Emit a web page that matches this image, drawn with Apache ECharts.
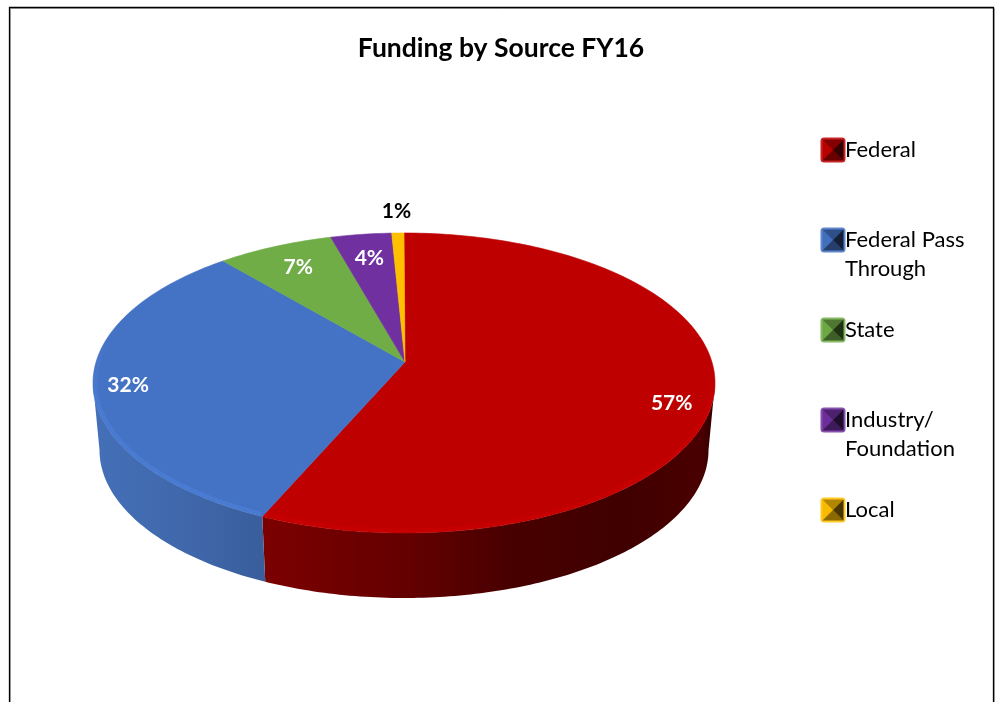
<!DOCTYPE html>
<html><head><meta charset="utf-8">
<style>html,body{margin:0;padding:0;background:#fff}#c{width:1000px;height:702px}</style>
<script src="https://cdn.jsdelivr.net/npm/echarts@6/dist/echarts.min.js"></script>
</head><body><div id="c"></div>
<script>
// ---- data ----
const categories = ['Federal', 'Federal Pass Through', 'State', 'Industry/ Foundation', 'Local'];
const legendText = ['Federal\n ', 'Federal Pass\nThrough', 'State\n ', 'Industry/\nFoundation', 'Local\n '];
const shares = [56.8, 32.3, 6.7, 3.5, 0.7];
const chartTitle = 'Funding by Source FY16';

// ---- styling ----
const topColors = ['#BE0000', '#4472C4', '#70AD47', '#7030A0', '#FFC000'];
const rimColors = ['#C60000', '#4A7BD2', null, null, null];
const sideStops = [
  [[0, '#7C0000'], [0.32, '#640000'], [0.55, '#480000'], [0.8, '#400000'], [0.97, '#4A0000'], [1, '#2C0000']],
  [[0, '#4470B8'], [0.5, '#4068AC'], [1, '#3A5E9C']],
  null, null, null
];
const labelColors = ['#fff', '#fff', '#fff', '#fff', '#000'];
const labelReach = [0.885, 0.89, 0.818, 0.81, 1.18];
const labelLift = [-8, -5, 0, 0, 1];

// ---- pie geometry (projected disc) ----
const apex = [405, 362];
const topRim = { cx: 404, cy: 383, rx: 311, ry: 150 };
const lowRim = { cx: 404, cy: 450, rx: 304.5, ry: 148 };
const perspective = 0.9;
const total = shares.reduce((a, b) => a + b, 0);
const rimPoint = (r, deg, inset) => {
  const a = deg * Math.PI / 180, k = inset || 0;
  return [r.cx + (r.rx - k) * Math.sin(a), r.cy - (r.ry - k) * Math.cos(a)];
};
const arc = (r, from, to, inset) => {
  const out = [], n = Math.max(2, Math.ceil(Math.abs(to - from)));
  for (let i = 0; i <= n; i++) out.push(rimPoint(r, from + (to - from) * i / n, inset));
  return out;
};
// angle on the disc -> angle on the projected rim (back of the disc is foreshortened)
const project = deg => {
  if (deg <= 0 || deg >= 360) return deg;
  if (deg === 180) return 180;
  const half = Math.atan(perspective * Math.tan(deg * Math.PI / 360));
  return (half < 0 ? half + Math.PI : half) * 360 / Math.PI;
};
const sliceAngles = i => {
  let s = 0;
  for (let k = 0; k < i; k++) s += shares[k];
  return [project(s / total * 360), project((s + shares[i]) / total * 360)];
};

function renderSlice(params) {
  const i = params.seriesIndex;
  const [a0, a1] = sliceAngles(i);
  const children = [];
  // side wall: only the front half of the disc is visible
  const f0 = Math.max(a0, 90), f1 = Math.min(a1, 270);
  if (f1 > f0 && sideStops[i]) {
    const pts = arc(topRim, f0, f1).concat(arc(lowRim, f1, f0));
    const xs = pts.map(p => p[0]);
    children.push({
      type: 'polygon', shape: { points: pts },
      style: {
        fill: {
          type: 'linear', global: true,
          x: Math.min.apply(null, xs), y: 0,
          x2: Math.max.apply(null, xs), y2: 0,
          colorStops: sideStops[i].map(s => ({ offset: s[0], color: s[1] }))
        }
      }
    });
  }
  // top face
  children.push({
    type: 'polygon', shape: { points: [apex].concat(arc(topRim, a0, a1)) },
    style: { fill: topColors[i], stroke: topColors[i], lineWidth: 0.6 }
  });
  // soft bevel along the front rim
  if (rimColors[i]) {
    const b0 = Math.max(a0 + 0.6, 90), b1 = Math.min(a1, 296);
    if (b1 > b0) children.push({
      type: 'polyline', shape: { points: arc(topRim, b0, b1, 2.5) },
      style: {
        fill: null, lineWidth: 4,
        stroke: {
          type: 'linear', global: true, x: 0, y: 330, x2: 0, y2: 410,
          colorStops: [{ offset: 0, color: topColors[i] }, { offset: 1, color: rimColors[i] }]
        }
      }
    });
  }
  // percentage label
  const mid = rimPoint(topRim, (a0 + a1) / 2);
  children.push({
    type: 'text', z2: 10,
    style: {
      text: Math.round(shares[i]) + '%',
      x: apex[0] + (mid[0] - apex[0]) * labelReach[i],
      y: apex[1] + (mid[1] - apex[1]) * labelReach[i] + labelLift[i],
      fill: labelColors[i], font: 'bold 21px Lato, sans-serif',
      align: 'center', verticalAlign: 'middle'
    }
  });
  return { type: 'group', children };
}

// bevelled legend key; lower half of the tall icon is empty so the key sits on the first text line
const bevelIcon = c => {
  const svg = `<svg xmlns="http://www.w3.org/2000/svg" width="26" height="58" viewBox="0 0 26 58">
<rect x="0.5" y="2" width="25" height="25" rx="3.5" fill="${c}" opacity="0.85"/>
<rect x="2.5" y="4" width="21" height="21" fill="${c}"/>
<polygon points="2.5,4 23.5,4 13,14.5" fill="#000" opacity="0.3"/>
<polygon points="2.5,25 23.5,25 13,14.5" fill="#000" opacity="0.45"/>
<polygon points="23.5,4 23.5,25 13,14.5" fill="#000" opacity="0.72"/>
<polygon points="2.5,4 2.5,25 13,14.5" fill="#000" opacity="0.03"/></svg>`;
  return 'image://data:image/svg+xml;charset=utf-8,' + encodeURIComponent(svg);
};

const chart = echarts.init(document.getElementById('c'), null, { renderer: 'canvas', width: 1000, height: 702 });
chart.setOption({
  animation: false,
  backgroundColor: '#fff',
  title: {
    text: chartTitle, left: 501, top: 35, textAlign: 'center', padding: 0,
    textStyle: { fontFamily: 'Lato, sans-serif', fontWeight: 'bold', fontSize: 26.5, color: '#000' }
  },
  legend: {
    orient: 'vertical', left: 820, top: 135.5, padding: 0,
    itemWidth: 26, itemHeight: 58, itemGap: 32, selectedMode: false,
    align: 'left',
    data: categories.map((n, i) => ({ name: n, icon: bevelIcon(topColors[i]) })),
    formatter: n => legendText[categories.indexOf(n)],
    textStyle: { fontFamily: 'Lato, sans-serif', fontSize: 22, color: '#000', lineHeight: 29, padding: [0, 0, 0, -6] }
  },
  graphic: [
    { type: 'polyline', z: -2, shape: { points: [[10.5, 702], [10.5, 8.5], [994.5, 8.5], [994.5, 702]] }, style: { fill: null, stroke: '#b0b0b0', lineWidth: 1 } },
    { type: 'polyline', z: -1, shape: { points: [[9.5, 702], [9.5, 7.5], [993.5, 7.5], [993.5, 702]] }, style: { fill: null, stroke: '#000', lineWidth: 1.3 } }
  ],
  series: categories.map((name, i) => ({
    type: 'custom', name, coordinateSystem: 'none', silent: true, clip: false,
    itemStyle: { color: topColors[i] },
    data: [shares[i]], renderItem: renderSlice
  }))
});
</script></body></html>
